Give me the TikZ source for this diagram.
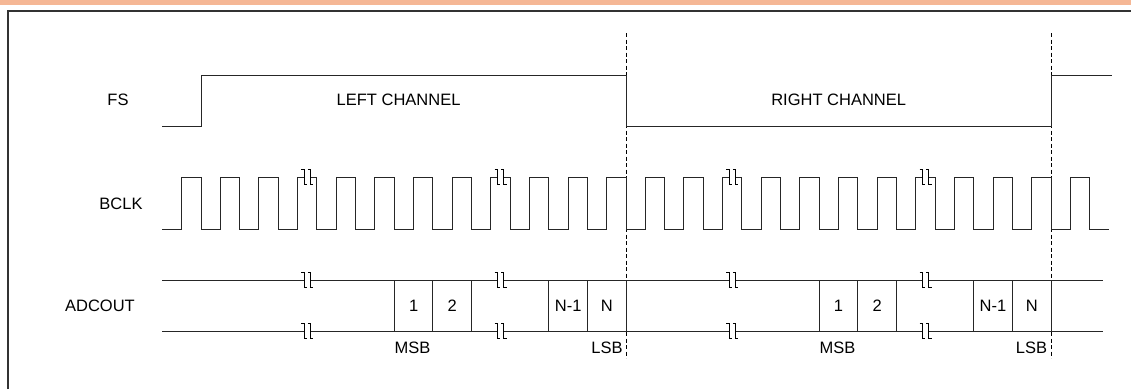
\documentclass[tikz,border=0pt]{standalone}
\usepackage{fontspec}
\setmainfont{Liberation Sans}
\definecolor{barorange}{HTML}{F5B795}
\definecolor{framegray}{HTML}{333333}
\newcommand{\brkmark}[2]{%
  \fill[white] (#1-3.0,#2-1.6) rectangle (#1+3.0,#2+1.6);
  \draw[brkline] (#1-6.0,#2-7.5) -- (#1-3.3,#2-7.5) -- (#1-3.3,#2+7.5) -- (#1-0.8,#2+7.5);
  \draw[brkline] (#1+0.6,#2-7.5) -- (#1+3.3,#2-7.5) -- (#1+3.3,#2+7.5) -- (#1+6.0,#2+7.5);
}
\begin{document}
\begin{tikzpicture}[x=1pt,y=-1pt,
  sig/.style={draw=black!85,line width=1pt,line join=miter},
  brkline/.style={draw=black,line width=0.8pt},
  divider/.style={draw=black!85,line width=1pt},
  guide/.style={draw=black,line width=0.8pt,dash pattern=on 4pt off 2.5pt},
  frameline/.style={draw=framegray,line width=1.8pt},
  lbl/.style={font=\fontsize{16.5}{19}\selectfont,inner sep=0pt,anchor=center}]
\useasboundingbox (0,0) rectangle (1131,389);
% top bar and frame
\fill[barorange] (0,0) rectangle (1131,4.7);
\draw[frameline] (8.2,389) -- (8.2,11.1) -- (1131,11.1);
% dashed guide lines
\draw[guide] (626,33) -- (626,358);
\draw[guide] (1051,33) -- (1051,358);
% FS
\draw[sig] (162,126) -- (201,126) -- (201,75) -- (626,75) -- (626,126) -- (1051,126) -- (1051,75) -- (1112,75);
% BCLK
\draw[sig] (162,229) foreach \k in {0,...,23} { -- ({181.68+38.636*\k},229) -- ++(0,-52) -- ++(19.318,0) -- ++(0,52) } -- (1109,229);
% ADCOUT
\draw[sig] (162,280) -- (1103,280);
\draw[sig] (162,331) -- (1103,331);
\foreach \k in {5,6,7,9,10,11,16,17,18,20,21,22} {
  \draw[divider] ({201+38.636*\k},280) -- ({201+38.636*\k},331);
}
% break marks
\foreach \bx in {307.3,500.5,732.3,925.5} {
  \brkmark{\bx}{177}
  \brkmark{\bx}{280}
  \brkmark{\bx}{331}
}
% labels
\node[lbl] (fs) at (118,100) {FS};
\node[lbl] (bclk) at (121,204) {BCLK};
\node[lbl] (adc) at (100,305.5) {ADCOUT};
\node[lbl] (lch) at (398.6,100) {LEFT CHANNEL};
\node[lbl] (rch) at (838.7,100) {RIGHT CHANNEL};
\foreach \c/\t [count=\i] in {413.6/1,452.3/2,568.2/N-1,606.8/N,838.5/1,877.1/2,993.0/N-1,1031.7/N} {
  \node[lbl] (bit\i) at (\c,306) {\t};
}
\node[lbl] (msbl) at (412.5,347.5) {MSB};
\node[lbl] (lsbl) at (607,347.5) {LSB};
\node[lbl] (msbr) at (837.5,347.5) {MSB};
\node[lbl] (lsbr) at (1031.5,347.5) {LSB};
\end{tikzpicture}
\end{document}
